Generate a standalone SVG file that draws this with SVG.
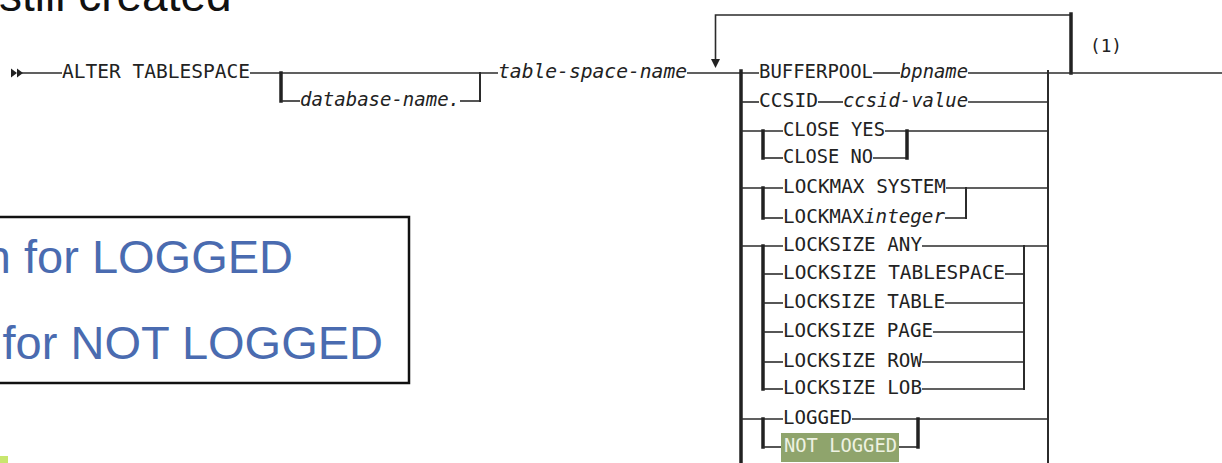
<svg xmlns="http://www.w3.org/2000/svg" width="1222" height="463" viewBox="0 0 1222 463">
<style>
.ln{stroke:#2b2b2b;stroke-width:1.6;fill:none}
.bar{stroke:#222;stroke-width:3.5;fill:none;stroke-linecap:square}
.thin{stroke:#2b2b2b;stroke-width:2;fill:none;stroke-linecap:square}
.kw{font-family:"DejaVu Sans Mono","Liberation Mono",monospace;font-size:20px;fill:#222}
.var{font-family:"DejaVu Sans Mono","Liberation Mono",monospace;font-size:20px;fill:#222;font-style:italic}
.big{font-family:"Liberation Sans",Arial,sans-serif;font-size:47px;fill:#4a6bb0}
</style>
<rect width="1222" height="463" fill="#fff"/>
<g id="title"><text x="-1" y="11" font-family="Liberation Sans, Arial, sans-serif" font-size="46" fill="#111">still created</text></g>
<g id="note">
<rect x="-5" y="217" width="414" height="166" fill="#fff" stroke="#111" stroke-width="2.5"/>
<text class="big" x="293" y="273" text-anchor="end">n for LOGGED</text>
<text class="big" x="383" y="359" text-anchor="end">for NOT LOGGED</text>
</g>
<rect x="0" y="456" width="8" height="7" fill="#c8e66e"/>
<g id="connectors">
<polygon points="11,68.5 17,73 11,77.5" fill="#222"/>
<polygon points="17,68.5 23,73 17,77.5" fill="#222"/>
<line class="ln" x1="22" y1="73" x2="62" y2="73"/>
<line class="ln" x1="250" y1="73" x2="498" y2="73"/>
<polyline class="bar" points="281,73 281,101"/>
<line class="ln" x1="281" y1="101" x2="300" y2="101"/>
<line class="ln" x1="460" y1="101" x2="480" y2="101"/>
<polyline class="thin" points="480,73 480,101"/>
<line class="ln" x1="687" y1="73" x2="759" y2="73"/>
<polyline class="ln" points="715.5,60 715.5,15 1071,15"/>
<polygon points="711,59 720,59 715.5,68" fill="#222"/>
<line class="bar" x1="1071" y1="14" x2="1071" y2="73"/>
<line class="ln" x1="873" y1="73" x2="900" y2="73"/>
<line class="ln" x1="968" y1="73" x2="1222" y2="73"/>
<line class="bar" x1="741" y1="71" x2="741" y2="465"/>
<line class="thin" x1="1048" y1="71" x2="1048" y2="465"/>
<line class="ln" x1="741" y1="102" x2="759" y2="102"/>
<line class="ln" x1="818" y1="102" x2="843" y2="102"/>
<line class="ln" x1="968" y1="102" x2="1048" y2="102"/>
<line class="ln" x1="741" y1="131" x2="783" y2="131"/>
<line class="bar" x1="763" y1="131" x2="763" y2="158"/>
<line class="ln" x1="763" y1="158" x2="783" y2="158"/>
<line class="ln" x1="885" y1="131" x2="1048" y2="131"/>
<line class="ln" x1="873" y1="158" x2="907" y2="158"/>
<line class="bar" x1="907" y1="131" x2="907" y2="158"/>
<line class="ln" x1="741" y1="188" x2="783" y2="188"/>
<line class="bar" x1="763" y1="188" x2="763" y2="218"/>
<line class="ln" x1="763" y1="218" x2="783" y2="218"/>
<line class="ln" x1="946" y1="188" x2="1048" y2="188"/>
<line class="ln" x1="945" y1="218" x2="966" y2="218"/>
<line class="thin" x1="966" y1="188" x2="966" y2="218"/>
<line class="ln" x1="741" y1="246" x2="783" y2="246"/>
<line class="bar" x1="763" y1="246" x2="763" y2="389"/>
<line class="ln" x1="763" y1="274" x2="783" y2="274"/>
<line class="ln" x1="763" y1="303" x2="783" y2="303"/>
<line class="ln" x1="763" y1="332" x2="783" y2="332"/>
<line class="ln" x1="763" y1="362" x2="783" y2="362"/>
<line class="ln" x1="763" y1="389" x2="783" y2="389"/>
<line class="ln" x1="922" y1="246" x2="1048" y2="246"/>
<line class="thin" x1="1024" y1="246" x2="1024" y2="389"/>
<line class="ln" x1="1005" y1="274" x2="1024" y2="274"/>
<line class="ln" x1="945" y1="303" x2="1024" y2="303"/>
<line class="ln" x1="933" y1="332" x2="1024" y2="332"/>
<line class="ln" x1="922" y1="362" x2="1024" y2="362"/>
<line class="ln" x1="922" y1="389" x2="1024" y2="389"/>
<line class="ln" x1="741" y1="419" x2="783" y2="419"/>
<line class="bar" x1="763" y1="419" x2="763" y2="447"/>
<line class="ln" x1="763" y1="447" x2="781" y2="447"/>
<line class="ln" x1="852" y1="419" x2="1048" y2="419"/>
<line class="ln" x1="899" y1="447" x2="918" y2="447"/>
<line class="bar" x1="918" y1="419" x2="918" y2="447"/>
</g>
<g id="n-alter"><text class="kw" x="62" y="78" textLength="188" lengthAdjust="spacingAndGlyphs">ALTER TABLESPACE</text></g>
<g id="n-dbname"><text class="var" x="300" y="106" textLength="160" lengthAdjust="spacingAndGlyphs">database-name.</text></g>
<g id="n-tsname"><text class="var" x="498" y="78" textLength="189" lengthAdjust="spacingAndGlyphs">table-space-name</text></g>
<g id="n-note1"><text class="kw" x="1090" y="52" font-size="17" textLength="32" lengthAdjust="spacingAndGlyphs" style="font-size:18px">(1)</text></g>
<g id="n-bufferpool"><text class="kw" x="759" y="78" textLength="114" lengthAdjust="spacingAndGlyphs">BUFFERPOOL</text><text class="var" x="900" y="78" textLength="68" lengthAdjust="spacingAndGlyphs">bpname</text></g>
<g id="n-ccsid"><text class="kw" x="759" y="107" textLength="59" lengthAdjust="spacingAndGlyphs">CCSID</text><text class="var" x="843" y="107" textLength="125" lengthAdjust="spacingAndGlyphs">ccsid-value</text></g>
<g id="n-closeyes"><text class="kw" x="783" y="136" textLength="102" lengthAdjust="spacingAndGlyphs">CLOSE YES</text></g>
<g id="n-closeno"><text class="kw" x="783" y="163" textLength="90" lengthAdjust="spacingAndGlyphs">CLOSE NO</text></g>
<g id="n-lockmaxsys"><text class="kw" x="783" y="193" textLength="163" lengthAdjust="spacingAndGlyphs">LOCKMAX SYSTEM</text></g>
<g id="n-lockmaxint"><text class="kw" x="783" y="223" textLength="162" lengthAdjust="spacingAndGlyphs">LOCKMAX<tspan font-style="italic">integer</tspan></text></g>
<g id="n-lsany"><text class="kw" x="783" y="251" textLength="139" lengthAdjust="spacingAndGlyphs">LOCKSIZE ANY</text></g>
<g id="n-lsts"><text class="kw" x="783" y="279" textLength="222" lengthAdjust="spacingAndGlyphs">LOCKSIZE TABLESPACE</text></g>
<g id="n-lstable"><text class="kw" x="783" y="308" textLength="162" lengthAdjust="spacingAndGlyphs">LOCKSIZE TABLE</text></g>
<g id="n-lspage"><text class="kw" x="783" y="337" textLength="150" lengthAdjust="spacingAndGlyphs">LOCKSIZE PAGE</text></g>
<g id="n-lsrow"><text class="kw" x="783" y="367" textLength="139" lengthAdjust="spacingAndGlyphs">LOCKSIZE ROW</text></g>
<g id="n-lslob"><text class="kw" x="783" y="394" textLength="139" lengthAdjust="spacingAndGlyphs">LOCKSIZE LOB</text></g>
<g id="n-logged"><text class="kw" x="783" y="424" textLength="69" lengthAdjust="spacingAndGlyphs">LOGGED</text></g>
<g id="n-notlogged"><rect x="781" y="433" width="118" height="29" fill="#8fa46c"/><text class="kw" x="784" y="452" textLength="113" lengthAdjust="spacingAndGlyphs" style="fill:#eef2e2">NOT LOGGED</text></g>
</svg>
